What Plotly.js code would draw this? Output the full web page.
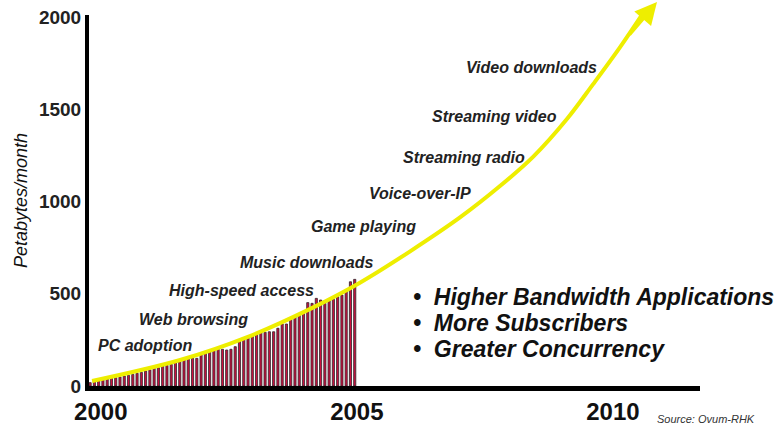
<!DOCTYPE html>
<html>
<head>
<meta charset="utf-8">
<script src="https://cdn.plot.ly/plotly-3.0.1.min.js"></script>
<style>html,body{margin:0;padding:0;background:#fff;}#chart{width:778px;height:427px;}</style>
</head>
<body>
<div id="chart"></div>
<script>
// Monthly periods (bars)
const months = [
  "1999-10","1999-11","1999-12",
  "2000-01","2000-02","2000-03","2000-04","2000-05","2000-06","2000-07","2000-08","2000-09","2000-10","2000-11","2000-12",
  "2001-01","2001-02","2001-03","2001-04","2001-05","2001-06","2001-07","2001-08","2001-09","2001-10","2001-11","2001-12",
  "2002-01","2002-02","2002-03","2002-04","2002-05","2002-06","2002-07","2002-08","2002-09","2002-10","2002-11","2002-12",
  "2003-01","2003-02","2003-03","2003-04","2003-05","2003-06","2003-07","2003-08","2003-09","2003-10","2003-11","2003-12",
  "2004-01","2004-02","2004-03","2004-04","2004-05","2004-06","2004-07","2004-08","2004-09","2004-10","2004-11","2004-12"
];
// Traffic, petabytes/month
const traffic = [
  18, 27, 31, 34, 38, 42, 45, 49, 54, 58, 63, 69, 74, 81, 88,
  96, 99, 108, 112, 117, 132, 135, 141, 148, 150, 150, 181, 181, 186, 191, 199, 199,
  195, 199, 213, 244, 258, 264, 276, 286, 298, 291, 294, 294, 313, 336, 336, 367,
  376, 385, 394, 452, 448, 475, 466, 448, 462, 470, 484, 493, 517, 565, 578
];
// Trend curve (year, petabytes/month)
const trendYears = [1999.83, 2001.55, 2002.86, 2004.14, 2005.06, 2006.04, 2007.02, 2007.80, 2008.45, 2009.11, 2009.61, 2010.14, 2010.59];
const trendValues = [27, 141, 265, 425, 560, 730, 915, 1085, 1245, 1450, 1635, 1837, 2022];
const trendTipYear = 2010.86;

// Application labels along the curve
const appLabels = ["PC adoption","Web browsing","High-speed access","Music downloads","Game playing","Voice-over-IP","Streaming radio","Streaming video","Video downloads"];
const appLabelYears = [1999.906, 2000.707, 2001.293, 2002.680, 2004.066, 2005.199, 2005.863, 2006.430, 2007.094];
const appLabelValues = [222, 363, 515, 667, 862, 1046, 1241, 1463, 1724];

const bullets = ["Higher Bandwidth Applications","More Subscribers","Greater Concurrency"];
const yTicks = [0, 500, 1000, 1500, 2000];
const xTicks = [2000, 2005, 2010];
const sourceText = "Source: Ovum-RHK";
const yTitle = "Petabytes/month";

const monthToYear = s => { const [y, m] = s.split("-").map(Number); return y + (m - 1) / 12 + 1 / 24; };
const barX = months.map(monthToYear);

const FONT = "Arial, 'Liberation Sans', sans-serif";

const traces = [
  {
    type: "bar", x: barX, y: traffic, width: 0.042,
    marker: {color: "#cc1040", line: {color: "#2c2428", width: 0.8}},
    hoverinfo: "skip"
  },
  {
    type: "scatter", mode: "lines", x: trendYears, y: trendValues,
    line: {color: "#eeee00", width: 4, shape: "spline", smoothing: 1},
    hoverinfo: "skip"
  }
];

const annotations = [];
appLabels.forEach((t, i) => annotations.push({
  text: "<b><i>" + t + "</i></b>", x: appLabelYears[i], y: appLabelValues[i],
  xref: "x", yref: "y", xanchor: "left", yanchor: "middle", showarrow: false,
  font: {family: FONT, size: 16, color: "#222"}
}));
const bulletY = [0.240, 0.170, 0.100];
bullets.forEach((t, i) => annotations.push({
  text: "<b><i>•  " + t + "</i></b>", x: 0.527, y: bulletY[i],
  xref: "paper", yref: "paper", xanchor: "left", yanchor: "middle", showarrow: false,
  font: {family: FONT, size: 23, color: "#111"}
}));
annotations.push({
  text: "<i>" + sourceText + "</i>", x: 0.926, y: -0.089, xref: "paper", yref: "paper",
  xanchor: "left", yanchor: "middle", showarrow: false,
  font: {family: FONT, size: 11, color: "#333"}
});
// arrow head at end of trend curve
annotations.push({
  text: "", x: trendTipYear, y: 1.035, xref: "x", yref: "paper",
  showarrow: true, ax: -29, ay: 34, arrowhead: 2, arrowsize: 1.1, arrowwidth: 4,
  arrowcolor: "#eeee00", standoff: 0
});

const layout = {
  width: 778, height: 427,
  margin: {l: 89, r: 78, t: 15, b: 41},
  paper_bgcolor: "#fff", plot_bgcolor: "#fff",
  showlegend: false,
  xaxis: {
    range: [1999.77, 2011.70], tickvals: xTicks, ticktext: xTicks.map(String),
    showgrid: false, zeroline: false, showline: true, linecolor: "#000", linewidth: 5,
    ticks: "", tickfont: {family: FONT, size: 24, color: "#111", weight: "bold"}
  },
  yaxis: {
    range: [0, 2011], tickvals: yTicks, showgrid: false, zeroline: false,
    showline: true, linecolor: "#000", linewidth: 4, ticks: "",
    tickfont: {family: FONT, size: 19, color: "#222", weight: "bold"},
    title: {text: "<i>" + yTitle + "</i>", font: {family: FONT, size: 18, color: "#111"}, standoff: 8}
  },
  annotations: annotations
};

Plotly.newPlot("chart", traces, layout, {displayModeBar: false, staticPlot: true});
</script>
</body>
</html>
